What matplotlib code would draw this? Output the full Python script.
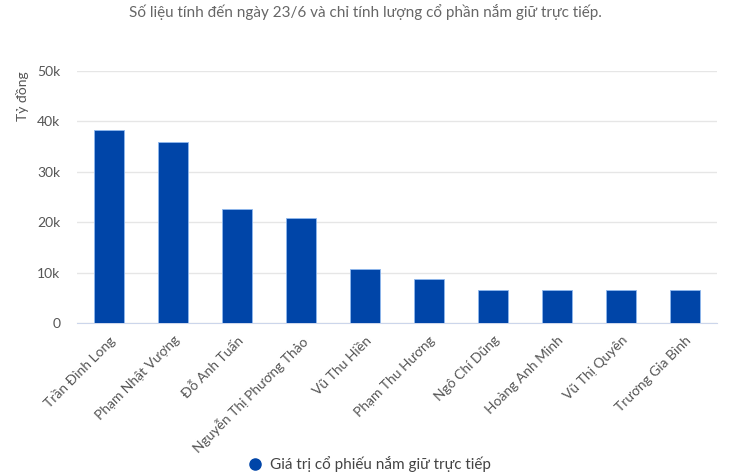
import numpy as np
import matplotlib
matplotlib.use("Agg")
import matplotlib.pyplot as plt
from matplotlib.lines import Line2D

# Dữ liệu
ten = ["Trần Đình Long", "Phạm Nhật Vượng", "Đỗ Anh Tuấn", "Nguyễn Thị Phương Thảo",
       "Vũ Thu Hiền", "Phạm Thu Hương", "Ngô Chí Dũng", "Hoàng Anh Minh",
       "Vũ Thị Quyên", "Trương Gia Bình"]
gia_tri = [38300, 35900, 22700, 20800, 10700, 8700, 6500, 6500, 6500, 6500]
yticks = [0, 10000, 20000, 30000, 40000, 50000]
ytick_labels = ["0", "10k", "20k", "30k", "40k", "50k"]

plt.rcParams['font.family'] = ['Lato', 'DejaVu Sans']

fig = plt.figure(figsize=(7.30, 4.76), dpi=100)
ax = fig.add_axes([77 / 730, (476 - 323) / 476, 640 / 730, 252 / 476])

x = np.arange(len(ten))
ax.bar(x, gia_tri, width=0.47, color='#0045a8', edgecolor='#8fb8ee', linewidth=0.6, zorder=3)

ax.set_xlim(-0.5, len(ten) - 0.5)
ax.set_ylim(0, 50000)
ax.set_yticks(yticks)
ax.set_yticklabels(ytick_labels, fontsize=10, color='#555555')
ax.set_xticks(x)
ax.set_xticklabels(ten, rotation=45, ha='right', va='top', rotation_mode='anchor',
                   fontsize=10, color='#555555')
ax.tick_params(axis='both', length=0)
ax.tick_params(axis='y', pad=12)
ax.tick_params(axis='x', pad=8)

ax.grid(axis='y', color='#e6e6e6', linewidth=1, zorder=0)
for s in ['top', 'right', 'left']:
    ax.spines[s].set_visible(False)
ax.spines['bottom'].set_color('#ccd6eb')

ax.set_ylabel("Tỷ đồng", fontsize=10, color='#555555')
ax.yaxis.set_label_coords(-0.075, 0.9)

fig.text(0.5, 1 - 12 / 476, "Số liệu tính đến ngày 23/6 và chỉ tính lượng cổ phần nắm giữ trực tiếp.",
         ha='center', va='center', fontsize=11, color='#666666')

handle = Line2D([], [], marker='o', linestyle='', color='#0045a8', markersize=8)
fig.legend([handle], ["Giá trị cổ phiếu nắm giữ trực tiếp"], loc='center',
           bbox_to_anchor=(0.5, 1 - 464 / 476), frameon=False, fontsize=11,
           handletextpad=0.0, labelcolor='#444444')

fig.savefig("out.png", dpi=100)
